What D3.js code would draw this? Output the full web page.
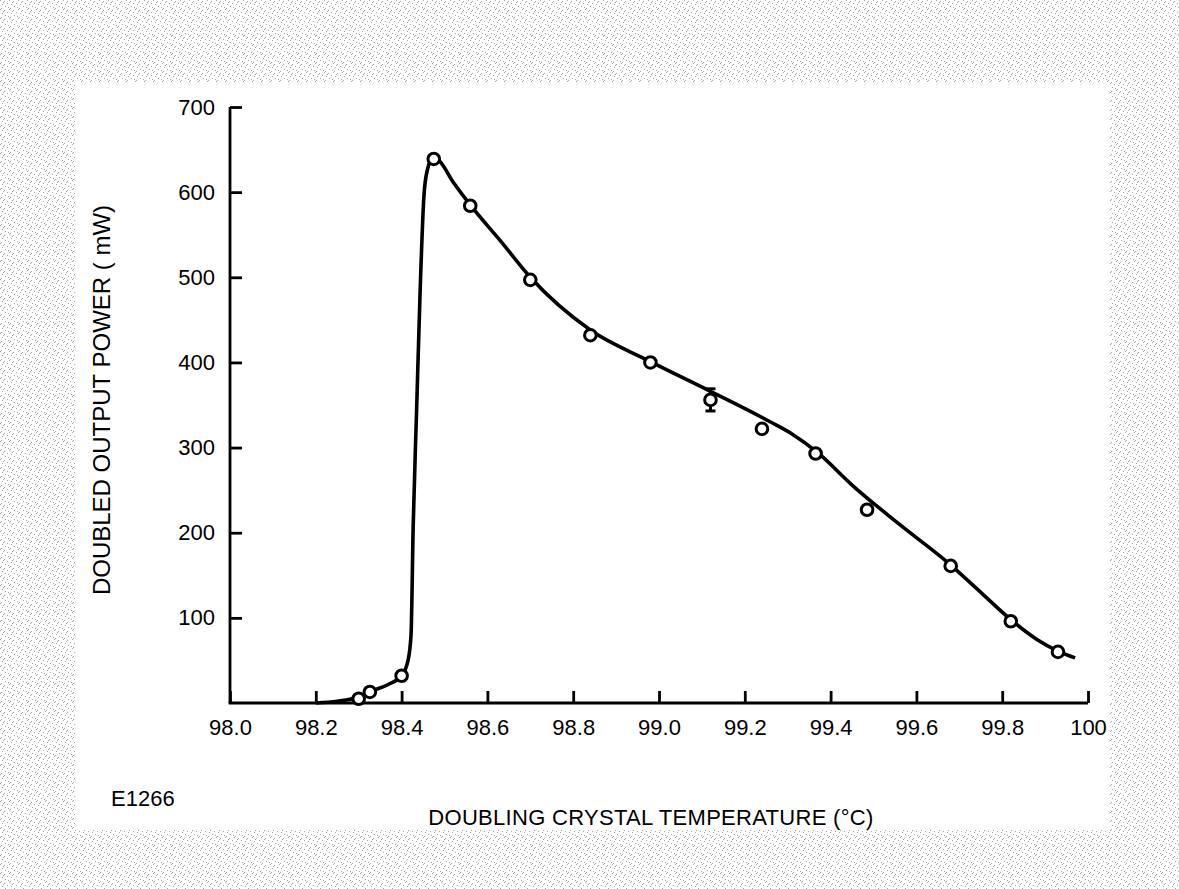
<!DOCTYPE html>
<html>
<head>
<meta charset="utf-8">
<script src="https://cdn.jsdelivr.net/npm/d3@7"></script>
<style>
  body { margin: 0; background: #fff; }
  text { font-family: "Liberation Sans", Arial, sans-serif; fill: #000; }
</style>
</head>
<body>
<svg id="chart"></svg>
<script>
// measured points: crystal temperature (°C) and doubled power (mW)
const pointTemps  = [98.30, 98.326, 98.40, 98.475, 98.56, 98.70, 98.84, 98.98, 99.12, 99.24, 99.365, 99.485, 99.68, 99.82, 99.93];
const pointPowers = [5, 13, 32, 639, 584, 497, 432, 400, 356, 322, 293, 227, 161, 96, 60];
const pointErrors = [0, 0, 0, 0, 0, 0, 0, 0, 13, 0, 0, 0, 0, 0, 0];

// hand drawn fit curve
const curveTemps  = [98.20, 98.25, 98.30, 98.33, 98.37, 98.40, 98.415, 98.422, 98.427, 98.435, 98.443, 98.452, 98.46, 98.473, 98.485, 98.52, 98.56, 98.63, 98.70, 98.84, 98.98, 99.12, 99.26, 99.31, 99.37, 99.45, 99.56, 99.68, 99.75, 99.82, 99.88, 99.93, 99.97];
const curvePowers = [0, 2, 7, 14, 22, 32, 50, 80, 208, 344, 481, 595, 626, 640, 638, 612, 585, 543, 500, 438, 401, 366, 330, 316, 294, 256, 210, 162, 130, 98, 75, 61, 53];

const xTicks = [98.0, 98.2, 98.4, 98.6, 98.8, 99.0, 99.2, 99.4, 99.6, 99.8, 100];
const yTicks = [100, 200, 300, 400, 500, 600, 700];

const W = 1179, H = 889;

const svg = d3.select("#chart")
    .attr("width", W)
    .attr("height", H);

// stippled paper border
const defs = svg.append("defs");
const pat = defs.append("pattern")
    .attr("id", "stipple")
    .attr("width", 9)
    .attr("height", 9)
    .attr("patternUnits", "userSpaceOnUse");
pat.append("rect").attr("width", 9).attr("height", 9).attr("fill", "#fff");
[[0, 0], [4, 1], [7, 3], [2, 4], [5, 6], [8, 7], [1, 8], [3, 2]].forEach(([a, b]) => {
    pat.append("rect").attr("x", a).attr("y", b).attr("width", 1).attr("height", 1).attr("fill", "#a4a4a4");
});
svg.append("rect").attr("width", W).attr("height", H).attr("fill", "url(#stipple)");
svg.append("rect")
    .attr("x", 75).attr("y", 82)
    .attr("width", 1110 - 75).attr("height", 830 - 82)
    .attr("fill", "#fff");

// scales
const x = d3.scaleLinear().domain([98.0, 100]).range([230, 1088]);
const y = d3.scaleLinear().domain([0, 700]).range([703, 107]);

// x axis
const gx = svg.append("g")
    .attr("transform", `translate(0,${y(0)})`)
    .call(d3.axisBottom(x)
        .tickValues(xTicks)
        .tickSizeInner(-12)
        .tickSizeOuter(0)
        .tickPadding(16)
        .tickFormat(d => d === 100 ? "100" : d.toFixed(1)));

// y axis
const gy = svg.append("g")
    .attr("transform", `translate(${x(98.0)},0)`)
    .call(d3.axisLeft(y)
        .tickValues(yTicks)
        .tickSizeInner(-12)
        .tickSizeOuter(0)
        .tickPadding(15));

[gx, gy].forEach(g => {
    g.select(".domain").attr("stroke", "#000").attr("stroke-width", 2.8);
    g.selectAll(".tick line").attr("stroke", "#000").attr("stroke-width", 2.8);
    g.selectAll(".tick text").style("font-size", "22px").attr("fill", "#000");
});
// axes meet at the corner, no label needed at power 0
gx.select(".domain").attr("d", `M${x(98.0) - 1.4},0H${x(100)}`);
gy.select(".domain").attr("d", `M0,${y(0)}V${y(700)}`);

// fit curve
const curveData = curveTemps.map((t, i) => ({ t, p: curvePowers[i] }));
svg.append("path")
    .datum(curveData)
    .attr("fill", "none")
    .attr("stroke", "#000")
    .attr("stroke-width", 3.6)
    .attr("stroke-linejoin", "round")
    .attr("d", d3.line()
        .x(d => x(d.t))
        .y(d => y(d.p))
        .curve(d3.curveMonotoneX));

// data points
const pts = pointTemps.map((t, i) => ({ t, p: pointPowers[i], e: pointErrors[i] }));

const err = svg.append("g").selectAll("g")
    .data(pts.filter(d => d.e > 0))
    .enter().append("g")
    .attr("stroke", "#000")
    .attr("stroke-width", 3);
err.append("line")
    .attr("x1", d => x(d.t)).attr("x2", d => x(d.t))
    .attr("y1", d => y(d.p + d.e)).attr("y2", d => y(d.p - d.e));
err.append("line")
    .attr("x1", d => x(d.t) - 5).attr("x2", d => x(d.t) + 5)
    .attr("y1", d => y(d.p + d.e)).attr("y2", d => y(d.p + d.e));
err.append("line")
    .attr("x1", d => x(d.t) - 5).attr("x2", d => x(d.t) + 5)
    .attr("y1", d => y(d.p - d.e)).attr("y2", d => y(d.p - d.e));

svg.append("g").selectAll("circle")
    .data(pts)
    .enter().append("circle")
    .attr("cx", d => x(d.t))
    .attr("cy", d => y(d.p))
    .attr("r", 5.8)
    .attr("fill", "#fff")
    .attr("stroke", "#000")
    .attr("stroke-width", 3);

// labels
svg.append("text")
    .attr("transform", "translate(110,400) rotate(-90)")
    .attr("text-anchor", "middle")
    .style("font-size", "24px")
    .text("DOUBLED OUTPUT POWER ( mW)");

svg.append("text")
    .attr("x", 651)
    .attr("y", 825)
    .attr("text-anchor", "middle")
    .style("font-size", "22px")
    .style("letter-spacing", "0.3px")
    .text("DOUBLING CRYSTAL TEMPERATURE (°C)");

svg.append("text")
    .attr("x", 111)
    .attr("y", 806)
    .style("font-size", "22px")
    .text("E1266");
</script>
</body>
</html>
